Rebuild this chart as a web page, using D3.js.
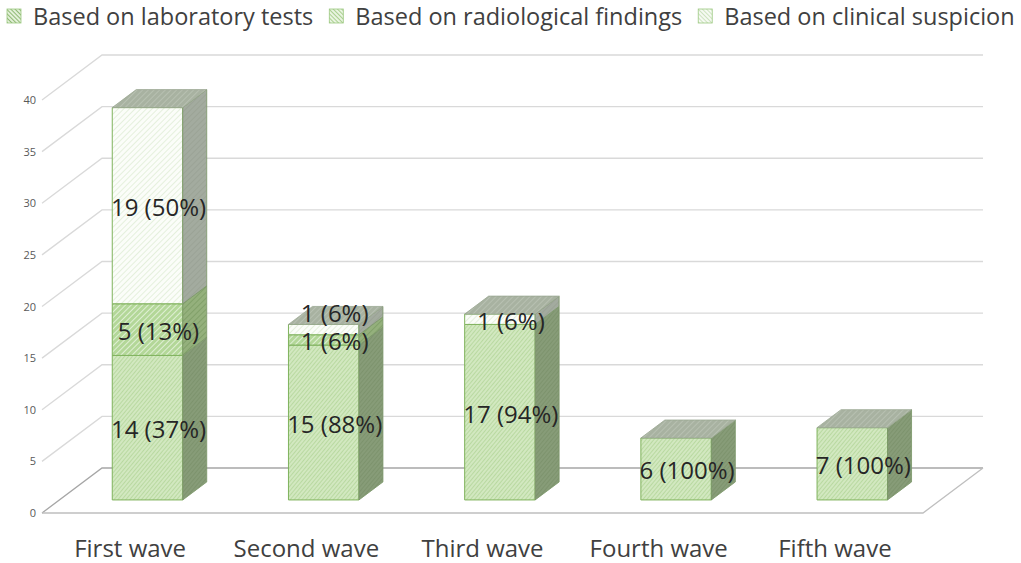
<!DOCTYPE html>
<html>
<head>
<meta charset="utf-8">
<script src="https://cdn.jsdelivr.net/npm/d3@7"></script>
<style>
  body { margin: 0; background: #fff; }
  svg { display: block; font-family: "Open Sans", sans-serif; }
</style>
</head>
<body>
<div id="chart"></div>
<script>
// data
var waves = ["First wave", "Second wave", "Third wave", "Fourth wave", "Fifth wave"];
var seriesNames = ["Based on laboratory tests", "Based on radiological findings", "Based on clinical suspicion"];
var labTests = [14, 15, 17, 6, 7];
var radiological = [5, 1, 0, 0, 0];
var clinical = [19, 1, 1, 0, 0];
var yTicks = [0, 5, 10, 15, 20, 25, 30, 35, 40];

var W = 1021, H = 563;

// 3D box: front plane of floor, and depth offset to the back wall
var floorLeft = 42, floorRight = 923, floorY = 513;
var depthX = 60, depthY = -45;
var barFront = 0.29, barBack = 0.69;   // fractions of depth the bars occupy

var svg = d3.select("#chart").append("svg")
    .attr("width", W)
    .attr("height", H);

// ---- patterns ----
var defs = svg.append("defs");
function hatch(id, bg, line, width, gap, angle) {
  var p = defs.append("pattern")
      .attr("id", id)
      .attr("patternUnits", "userSpaceOnUse")
      .attr("width", gap)
      .attr("height", gap)
      .attr("patternTransform", "rotate(" + angle + ")");
  p.append("rect").attr("width", gap).attr("height", gap).attr("fill", bg);
  p.append("line")
      .attr("x1", 0).attr("y1", 0).attr("x2", 0).attr("y2", gap)
      .attr("stroke", line).attr("stroke-width", width);
}
// front faces
hatch("labF", "#d2e8c0", "#a8cf8c", 1.2, 3, 40);
hatch("radF", "#b3d798", "#eef7e8", 1.5, 4, 45);
hatch("cliF", "#fbfdf9", "#cfe3c1", 1, 4, 45);
// side faces
hatch("labS", "#879c78", "#768d66", 1.2, 3, 40);
hatch("radS", "#94b07c", "#7c9c64", 1.6, 4, 45);
hatch("cliS", "#a3ab9f", "#939c8e", 1, 4, 45);
// top faces
hatch("topF", "#a8b2a1", "#bec6b8", 1.4, 4, 45);
// legend glyphs
hatch("labL", "#e3f0d9", "#5f9a3c", 1.3, 3, -45);
hatch("radL", "#e9f4e1", "#86bb62", 1.3, 3, -45);
hatch("cliL", "#f6faf3", "#b9d7a5", 1.3, 3, -45);

var frontFill = ["url(#labF)", "url(#radF)", "url(#cliF)"];
var sideFill = ["url(#labS)", "url(#radS)", "url(#cliS)"];
var legendFill = ["url(#labL)", "url(#radL)", "url(#cliL)"];

// ---- scales ----
var x = d3.scaleBand()
    .domain(waves)
    .range([floorLeft, floorRight])
    .paddingInner(0.6)
    .paddingOuter(0.3);

var y = d3.scaleLinear()
    .domain([0, 40])
    .range([floorY, floorY - 413]);

// point at front-plane x, value v and depth fraction f
function pt(px, v, f) {
  return [px + f * depthX, y(v) + f * depthY];
}
function poly(points) {
  return "M" + points.map(function(p) { return p[0] + "," + p[1]; }).join("L") + "Z";
}

// ---- walls and gridlines ----
var grid = svg.append("g");
yTicks.forEach(function(v) {
  var col = v === 0 ? "#a6a6a6" : "#d9d9d9";
  var a = pt(floorLeft, v, 0), b = pt(floorLeft, v, 1), c = pt(floorRight, v, 1);
  grid.append("path")
      .attr("d", "M" + a + "L" + b + "L" + c)
      .attr("fill", "none")
      .attr("stroke", col)
      .attr("stroke-width", 1.3);
});
// floor front and right edges
grid.append("path")
    .attr("d", "M" + pt(floorLeft, 0, 0) + "L" + pt(floorRight, 0, 0) + "L" + pt(floorRight, 0, 1))
    .attr("fill", "none")
    .attr("stroke", "#bfbfbf")
    .attr("stroke-width", 1.3);

// ---- y axis labels ----
svg.append("g")
    .attr("transform", "translate(36,0)")
    .call(d3.axisLeft(y).tickValues(yTicks).tickSize(0).tickPadding(0))
    .call(function(g) { g.select(".domain").remove(); })
    .selectAll("text")
    .attr("font-family", "Open Sans, sans-serif")
    .attr("font-size", 11)
    .attr("fill", "#595959");

// ---- bars ----
var stacks = waves.map(function(w, i) {
  var vals = [labTests[i], radiological[i], clinical[i]];
  var total = d3.sum(vals);
  var base = 0;
  return vals.map(function(v, s) {
    var seg = {wave: w, series: s, v0: base, v1: base + v, value: v, total: total};
    base += v;
    return seg;
  }).filter(function(d) { return d.value > 0; });
});

var bars = svg.append("g");
var labels = [];
stacks.forEach(function(segs) {
  segs.forEach(function(d, k) {
    var x0 = x(d.wave), x1 = x(d.wave) + x.bandwidth();
    var g = bars.append("g");
    // front face
    g.append("path")
        .attr("d", poly([pt(x0, d.v0, barFront), pt(x1, d.v0, barFront), pt(x1, d.v1, barFront), pt(x0, d.v1, barFront)]))
        .attr("fill", frontFill[d.series])
        .attr("stroke", "#7fb25c")
        .attr("stroke-width", 1);
    // right side face
    g.append("path")
        .attr("d", poly([pt(x1, d.v0, barFront), pt(x1, d.v0, barBack), pt(x1, d.v1, barBack), pt(x1, d.v1, barFront)]))
        .attr("fill", sideFill[d.series])
        .attr("stroke", "#7a9667")
        .attr("stroke-width", 0.8);
    // top face
    if (k === segs.length - 1) {
      g.append("path")
          .attr("d", poly([pt(x0, d.v1, barFront), pt(x1, d.v1, barFront), pt(x1, d.v1, barBack), pt(x0, d.v1, barBack)]))
          .attr("fill", "url(#topF)")
          .attr("stroke", "#9aa792")
          .attr("stroke-width", 0.8);
    }
    // label position: middle of segment, pushed up if it would hit the one below
    var p = pt((x0 + x1) / 2, (d.v0 + d.v1) / 2, barFront);
    var ly = p[1] + 1;
    var prev = labels.length ? labels[labels.length - 1] : null;
    if (prev && prev.wave === d.wave && ly > prev.y - 28) ly = prev.y - 28;
    labels.push({
      wave: d.wave,
      x: p[0] + 11,
      y: ly,
      text: d.value + " (" + Math.round(100 * d.value / d.total) + "%)"
    });
  });
});

svg.append("g").selectAll("text")
  .data(labels)
  .join("text")
    .attr("x", function(d) { return d.x; })
    .attr("y", function(d) { return d.y; })
    .attr("text-anchor", "middle")
    .attr("dominant-baseline", "central")
    .attr("font-size", 24)
    .attr("fill", "#262626")
    .text(function(d) { return d.text; });

// ---- category axis ----
svg.append("g")
    .attr("class", "xaxis")
    .attr("transform", "translate(0,540)")
    .call(d3.axisBottom(x).tickSize(0).tickPadding(0))
    .call(function(g) { g.select(".domain").remove(); })
    .selectAll("text")
    .attr("font-family", "Open Sans, sans-serif")
    .attr("font-size", 24)
    .attr("fill", "#404040");

// ---- legend ----
var legend = svg.append("g").attr("transform", "translate(0,16)");
var lx = 7;
seriesNames.forEach(function(name, i) {
  legend.append("rect")
      .attr("x", lx).attr("y", -7)
      .attr("width", 14).attr("height", 14)
      .attr("fill", legendFill[i])
      .attr("stroke", "#9cc880")
      .attr("stroke-width", 0.8);
  var t = legend.append("text")
      .attr("x", lx + 26)
      .attr("y", 0)
      .attr("dominant-baseline", "central")
      .attr("font-size", 23.5)
      .attr("fill", "#404040")
      .text(name);
  lx += 26 + t.node().getComputedTextLength() + 16;
});
</script>
</body>
</html>
